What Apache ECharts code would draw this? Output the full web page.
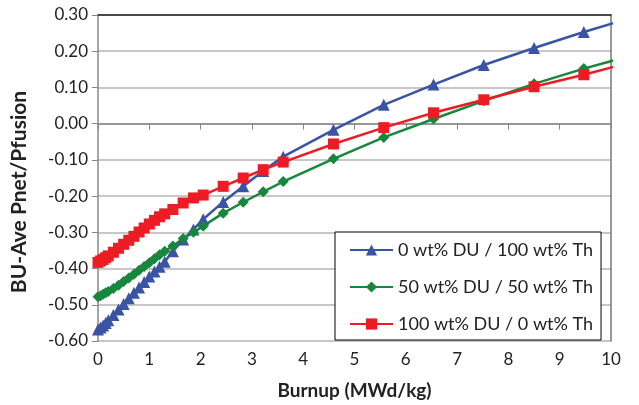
<!DOCTYPE html>
<html>
<head>
<meta charset="utf-8">
<script src="https://cdn.jsdelivr.net/npm/echarts@6/dist/echarts.min.js"></script>
<style>html,body{margin:0;padding:0;background:#fff;}#c{width:639px;height:405px;}</style>
</head>
<body>
<div id="c"></div>
<script>
const burnup = [0, 0.05, 0.1, 0.15, 0.2, 0.3, 0.4, 0.5, 0.6, 0.7, 0.8, 0.9, 1.0, 1.1, 1.2, 1.3, 1.46, 1.66, 1.86, 2.05, 2.44, 2.83, 3.22, 3.61, 4.59, 5.57, 6.54, 7.52, 8.5, 9.47, 10.45];
const th100 = [-0.568, -0.563, -0.557, -0.550, -0.543, -0.528, -0.513, -0.498, -0.482, -0.467, -0.452, -0.437, -0.422, -0.408, -0.395, -0.381, -0.352, -0.320, -0.292, -0.264, -0.216, -0.173, -0.131, -0.091, -0.017, 0.052, 0.108, 0.162, 0.209, 0.253, 0.295];
const du50 = [-0.478, -0.475, -0.471, -0.467, -0.463, -0.455, -0.446, -0.436, -0.426, -0.416, -0.405, -0.394, -0.384, -0.373, -0.362, -0.352, -0.338, -0.317, -0.300, -0.283, -0.247, -0.217, -0.188, -0.160, -0.097, -0.038, 0.013, 0.063, 0.110, 0.152, 0.190];
const du100 = [-0.383, -0.379, -0.375, -0.370, -0.365, -0.355, -0.344, -0.333, -0.322, -0.311, -0.299, -0.288, -0.277, -0.267, -0.257, -0.249, -0.237, -0.219, -0.205, -0.197, -0.173, -0.150, -0.127, -0.106, -0.056, -0.011, 0.030, 0.066, 0.102, 0.135, 0.172];
const seriesNames = ['0 wt% DU / 100 wt% Th', '50 wt% DU / 50 wt% Th', '100 wt% DU / 0 wt% Th'];
const xTitle = 'Burnup (MWd/kg)';
const yTitle = 'BU-Ave Pnet/Pfusion';

const FONT = 'Lato';
const pair = ys => burnup.map((x, i) => [x, ys[i]]);
const chart = echarts.init(document.getElementById('c'), null, {renderer: 'canvas'});
function mk(name, ys, color, symbol, size) {
  return {
    name, type: 'line', data: pair(ys), smooth: false,
    symbol, symbolSize: size, showAllSymbol: true, clip: true,
    lineStyle: {color, width: 2.5, join: 'round'}, itemStyle: {color},
    emphasis: {disabled: true}
  };
}
chart.setOption({
  animation: false,
  backgroundColor: '#fff',
  grid: {left: 98, right: 28, top: 15, bottom: 63, containLabel: false},
  legend: {
    orient: 'vertical', left: 335, top: 232,
    data: seriesNames,
    backgroundColor: '#fff', borderColor: '#000', borderWidth: 1,
    padding: [9, 8, 7, 14], itemGap: 19, itemWidth: 43, itemHeight: 14,
    textStyle: {fontFamily: FONT, fontSize: 18, color: '#222'}
  },
  graphic: [{
    type: 'text', left: 8, top: 'middle', rotation: Math.PI / 2,
    x: 19, y: 192, left: null, top: null,
    style: {text: yTitle, fontFamily: FONT, fontSize: 21, fontWeight: 'bold', fill: '#222',
      align: 'center', verticalAlign: 'middle'}
  }],
  xAxis: [{
    type: 'value', min: 0, max: 10, interval: 1,
    name: xTitle, nameLocation: 'middle', nameGap: 40,
    nameTextStyle: {fontFamily: FONT, fontSize: 19, fontWeight: 'bold', color: '#222'},
    axisLine: {show: true, lineStyle: {color: '#888', width: 1.5}},
    axisTick: {show: true, length: 6, lineStyle: {color: '#888'}},
    axisLabel: {fontFamily: FONT, fontSize: 17, color: '#222', margin: 10},
    splitLine: {show: false}
  }, {
    type: 'value', min: 0, max: 10, position: 'top',
    axisLine: {show: true, onZero: false, lineStyle: {color: '#222', width: 1.5}},
    axisTick: {show: false}, axisLabel: {show: false}, splitLine: {show: false}
  }],
  yAxis: [{
    type: 'value', min: -0.6, max: 0.3, interval: 0.1,
    axisLine: {show: true, onZero: false, lineStyle: {color: '#888', width: 1.5}},
    axisTick: {show: true, length: 6, lineStyle: {color: '#888'}},
    axisLabel: {fontFamily: FONT, fontSize: 17, color: '#222', margin: 10,
      formatter: v => v.toFixed(2)},
    splitLine: {show: true, lineStyle: {color: '#b4b4b4', width: 1.5}}
  }, {
    type: 'value', min: -0.6, max: 0.3, position: 'right',
    axisLine: {show: true, onZero: false, lineStyle: {color: '#777', width: 1.5}},
    axisTick: {show: false}, axisLabel: {show: false}, splitLine: {show: false}
  }],
  series: [
    mk(seriesNames[0], th100, '#3A53A4', 'triangle', 12),
    mk(seriesNames[1], du50, '#17873D', 'diamond', 11),
    mk(seriesNames[2], du100, '#ED1C24', 'rect', 11)
  ]
});
</script>
</body>
</html>
